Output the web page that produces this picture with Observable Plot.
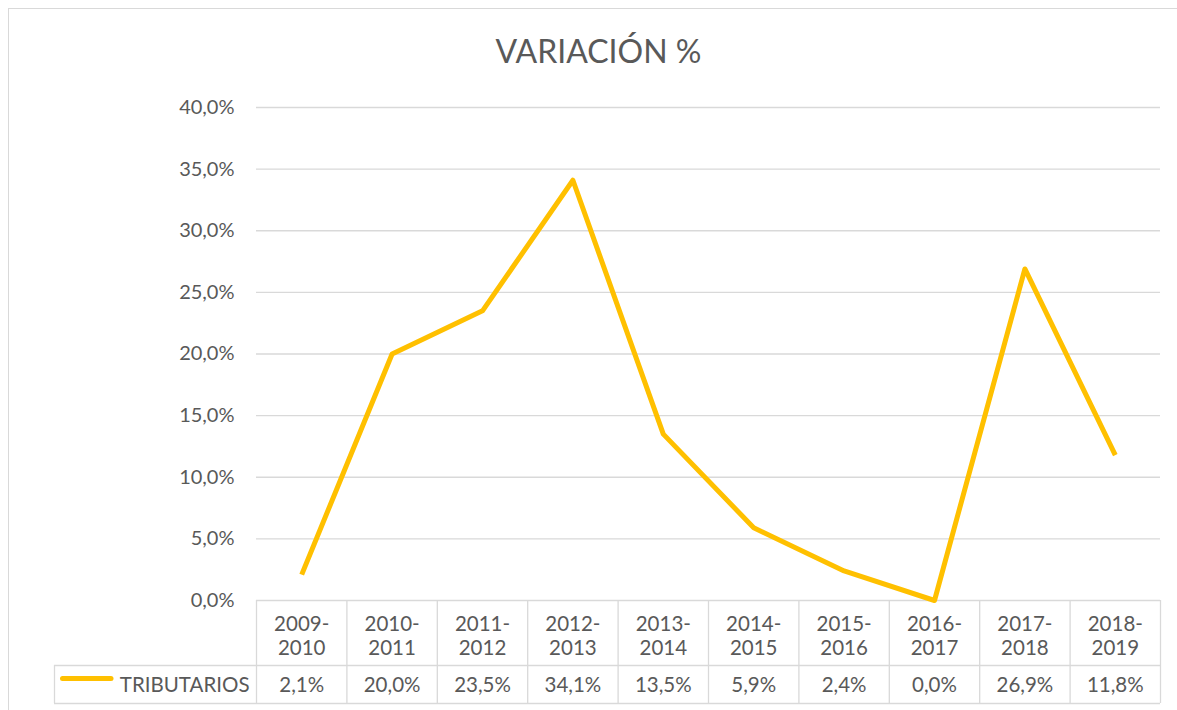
<!DOCTYPE html>
<html>
<head>
<meta charset="utf-8">
<script src="https://cdn.jsdelivr.net/npm/d3@7"></script>
<script src="https://cdn.jsdelivr.net/npm/@observablehq/plot@0.6"></script>
<style>
  html, body { margin: 0; padding: 0; background: #fff; overflow: hidden; }
  #wrap { position: relative; width: 1177px; height: 710px; }
  #frame { position: absolute; left: 8px; top: 8px; width: 1200px; height: 720px;
           border-left: 1.5px solid #d9d9d9; border-top: 1.5px solid #d9d9d9; }
  #chart { position: absolute; left: 0; top: 0; }
  svg { font-family: Lato, "Open Sans", sans-serif; }
</style>
</head>
<body>
<div id="wrap"><div id="frame"></div><div id="chart"></div></div>
<script>
const title = "VARIACIÓN %";
const seriesName = "TRIBUTARIOS";
const categories = ["2009-2010","2010-2011","2011-2012","2012-2013","2013-2014","2014-2015","2015-2016","2016-2017","2017-2018","2018-2019"];
const values = [0.021, 0.200, 0.235, 0.341, 0.135, 0.059, 0.024, 0.000, 0.269, 0.118];
const yTicks = [0, 0.05, 0.10, 0.15, 0.20, 0.25, 0.30, 0.35, 0.40];

const data = categories.map((c, i) => ({i, cat: c, value: values[i]}));
const edges = d3.range(categories.length + 1).map(k => k - 0.5);
const fmt = v => (v * 100).toFixed(1).replace(".", ",") + "%";
const grid = "#d9d9d9";
const ink = "#595959";
const frameH = 710 - 107 - 110;

const chart = Plot.plot({
  width: 1177,
  height: 710,
  marginLeft: 256,
  marginRight: 17,
  marginTop: 107,
  marginBottom: 110,
  style: {fontSize: "20px", color: ink, background: "transparent"},
  x: {domain: [-0.5, categories.length - 0.5], axis: null},
  y: {domain: [0, 0.4], ticks: yTicks, tickFormat: fmt, tickSize: 0, tickPadding: 22, label: null},
  marks: [
    Plot.ruleY(yTicks, {stroke: grid, strokeWidth: 1.3}),
    // table: vertical separators
    Plot.ruleX(edges, {x: d => d, stroke: grid, strokeWidth: 1.3, insetTop: frameH, insetBottom: -103}),
    Plot.ruleX([edges[0]], {x: d => d, dx: -202, stroke: grid, strokeWidth: 1.3, insetTop: frameH + 65, insetBottom: -103}),
    // table: horizontal lines
    Plot.ruleY([0], {y: d => d, dy: 65, stroke: grid, strokeWidth: 1.3, insetLeft: -202}),
    Plot.ruleY([0], {y: d => d, dy: 103, stroke: grid, strokeWidth: 1.3, insetLeft: -202}),
    // header labels
    Plot.text(data, {x: "i", y: () => 0, dy: 35, text: d => d.cat.replace("-", "-\n"), fill: ink, fontSize: 20.5, lineHeight: 1.18, lineAnchor: "middle"}),
    // values row
    Plot.text(data, {x: "i", y: () => 0, dy: 85, text: d => fmt(d.value), fill: ink, fontSize: 20.5, lineAnchor: "middle"}),
    // legend key
    Plot.ruleY([0], {y: d => d, x1: () => edges[0], x2: () => edges[0], dy: 78, insetLeft: -193.5, insetRight: 145, stroke: "#FFC000", strokeWidth: 5, strokeLinecap: "round"}),
    Plot.text([seriesName], {x: () => edges[0], y: () => 0, dx: -7, dy: 85, text: d => d, textAnchor: "end", fill: ink, fontSize: 20.5, lineAnchor: "middle"}),
    // line
    Plot.line(data, {x: "i", y: "value", stroke: "#FFC000", strokeWidth: 5, strokeLinejoin: "round", strokeLinecap: "butt"}),
    // title
    Plot.text([title], {frameAnchor: "top", dx: -110, dy: -55, text: d => d, fill: ink, fontSize: 32, fontWeight: 400, lineAnchor: "middle"})
  ]
});
document.getElementById("chart").append(chart);
</script>
</body>
</html>
